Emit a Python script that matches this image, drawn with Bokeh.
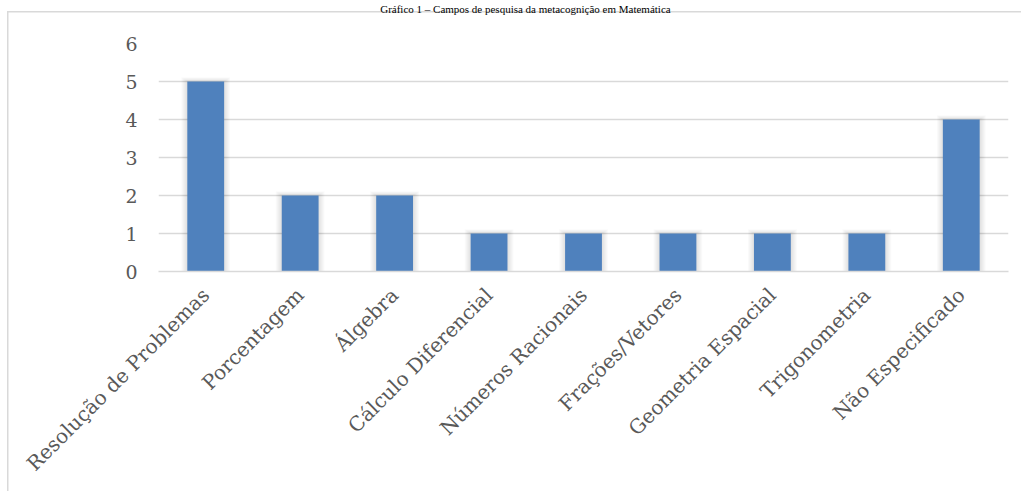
from bokeh.plotting import figure
from bokeh.models import FactorRange, Range1d, FixedTicker, Title
from bokeh.embed import file_html
from bokeh.resources import INLINE
import math

categories = ["Resolução de Problemas", "Porcentagem", "Álgebra", "Cálculo Diferencial",
              "Números Racionais", "Frações/Vetores", "Geometria Espacial", "Trigonometria",
              "Não Especificado"]
counts = [5, 2, 2, 1, 1, 1, 1, 1, 4]
y_ticks = [0, 1, 2, 3, 4, 5, 6]
title_text = "Gráfico 1 – Campos de pesquisa da metacognição em Matemática"

W, H = 1021, 491
FRAME_L, FRAME_R, FRAME_T, FRAME_B = 158, 1008, 40, 271

p = figure(x_range=FactorRange(*categories, range_padding=0), y_range=Range1d(0, 6),
           width=W, height=H, output_backend="svg", toolbar_location=None,
           min_border_left=FRAME_L, min_border_right=W - FRAME_R,
           min_border_top=FRAME_T, min_border_bottom=H - FRAME_B)
p.title = None
p.outline_line_color = None
p.background_fill_color = "white"
p.border_fill_color = None
# light grey outer border of the chart box (drawn behind the transparent canvas)
p.styles = {
    "background-color": "white",
    "background-image": "linear-gradient(#D9D9D9, #D9D9D9), linear-gradient(#D9D9D9, #D9D9D9)",
    "background-size": "1.5px 100%, 100% 1.5px",
    "background-position": "7px 11px, 7px 11px",
    "background-repeat": "no-repeat",
}

# spacer next to the frame, then the title pushed to the very top of the picture
TS = 11
p.add_layout(Title(text=" ", text_font_size="1px", standoff=26), "above")
p.add_layout(Title(text=title_text, text_font="Liberation Serif", text_font_size=f"{TS}px",
                   text_font_style="normal", text_color="black", align="left",
                   offset=526 - 26.6 * TS / 2 - FRAME_L, standoff=0), "above")

px_x = len(categories) / (FRAME_R - FRAME_L)
px_y = 6 / (FRAME_B - FRAME_T)
bar_w = 0.39

# soft shadow
for i in range(1, 7):
    p.vbar(x=categories, top=[c + i * px_y * 0.7 for c in counts], bottom=0,
           width=bar_w + 2 * i * px_x, fill_color="black", fill_alpha=0.02, line_color=None)

p.vbar(x=categories, top=counts, bottom=0, width=bar_w, fill_color="#4F81BD", line_color=None)

p.xgrid.grid_line_color = None
p.ygrid.grid_line_color = "#D9D9D9"
p.ygrid.grid_line_width = 1.5
p.yaxis.ticker = FixedTicker(ticks=y_ticks)

font = "DejaVu Serif"
for ax in (p.xaxis[0], p.yaxis[0]):
    ax.major_tick_line_color = None
    ax.minor_tick_line_color = None
    ax.major_label_text_font = font
    ax.major_label_text_color = "#595959"
p.xaxis.major_label_text_font_size = "20px"
p.yaxis.major_label_text_font_size = "19px"
p.yaxis.axis_line_color = None
p.xaxis.axis_line_color = "#D9D9D9"
p.xaxis.axis_line_width = 1.5
p.yaxis.major_label_standoff = 15
p.xaxis.major_label_standoff = 14
p.xaxis.major_label_orientation = math.pi / 4

open("out.html", "w").write(file_html(p, INLINE))
